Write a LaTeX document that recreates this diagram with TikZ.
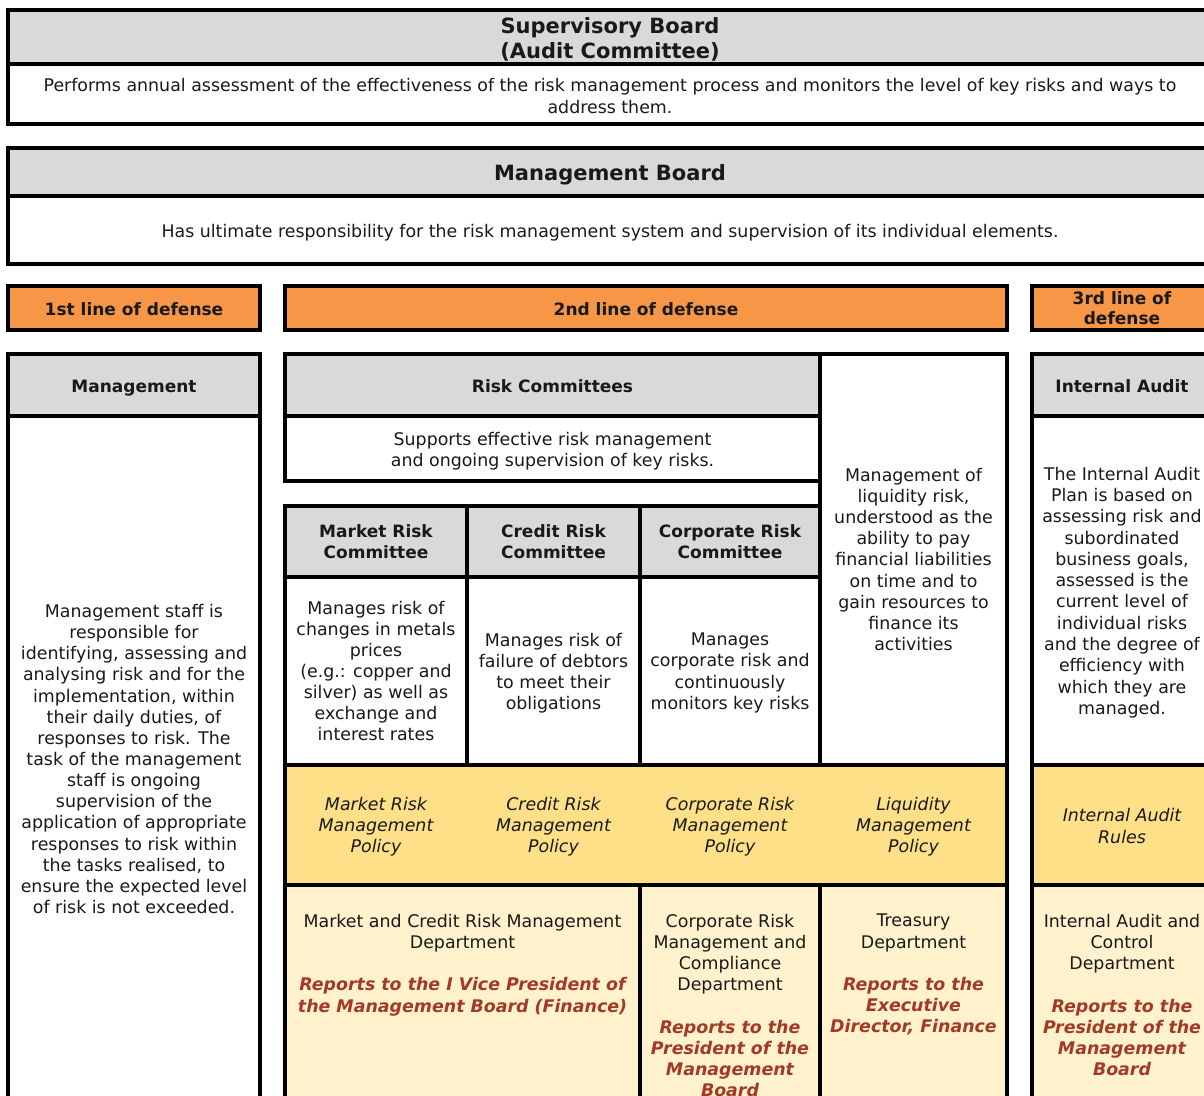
\documentclass[tikz,border=0pt]{standalone}
\usepackage{fontspec}
\setmainfont{DejaVu Sans}
\newcommand\bodyfnt{\fontsize{17.4}{21.15}\selectfont}
\newcommand\boldfnt{\fontsize{17}{21.15}\selectfont\bfseries}
\newcommand\bigfnt{\fontsize{21}{25}\selectfont\bfseries}
\newcommand\rp[1]{{\color{rep}\bfseries\itshape #1}}
\definecolor{hdr}{RGB}{217,217,217}
\definecolor{orng}{RGB}{247,150,70}
\definecolor{pol}{RGB}{254,224,137}
\definecolor{dept}{RGB}{255,242,204}
\definecolor{rep}{RGB}{163,58,40}
\begin{document}
\begin{tikzpicture}[x=1pt,y=-1pt,
  cell/.style={draw=black, line width=3.3pt, inner sep=0pt, outer sep=0pt,
    anchor=north west},
  hcell/.style={cell, fill=hdr},
  ocell/.style={cell, fill=orng},
  pcell/.style={cell, fill=pol},
  dcell/.style={cell, fill=dept},
  ct/.style={align=center, inner sep=0pt, font=\bodyfnt, text=black!90},
  ht/.style={ct, font=\boldfnt},
  bt/.style={ct, font=\bigfnt},
  pt/.style={ct, font=\bodyfnt\itshape},
  dt/.style={ct, anchor=north}]
\useasboundingbox (0,0) rectangle (1204,1095);
\clip (0,0) rectangle (1204,1095);
% top boards
\node[hcell, minimum width=1204pt, minimum height=54pt] (sbh) at (8,10) {};
\node[bt] (sbht) at ([yshift=-2pt]sbh.center) {Supervisory Board\\(Audit Committee)};
\node[cell, minimum width=1204pt, minimum height=60pt] (sbb) at (8,64) {};
\node[ct] (sbbt) at ([yshift=-2pt]sbb.center)
  {Performs annual assessment of the effectiveness of the risk management process and monitors the level of key risks and ways to\\address them.};
\node[hcell, minimum width=1204pt, minimum height=48pt] (mbh) at (8,148) {};
\node[bt] (mbht) at ([yshift=-3pt]mbh.center) {Management Board};
\node[cell, minimum width=1204pt, minimum height=68pt] (mbb) at (8,196) {};
\node[ct] (mbbt) at ([yshift=-3pt]mbb.center)
  {Has ultimate responsibility for the risk management system and supervision of its individual elements.};
% lines of defense
\node[ocell, minimum width=252pt, minimum height=44pt] (l1) at (8,286) {};
\node[ht] (l1t) at ([yshift=-1pt]l1.center) {1st line of defense};
\node[ocell, minimum width=722pt, minimum height=44pt] (l2) at (285,286) {};
\node[ht] (l2t) at ([yshift=-1pt]l2.center) {2nd line of defense};
\node[ocell, minimum width=180pt, minimum height=44pt] (l3) at (1032,286) {};
\node[ht, font=\fontsize{17}{20}\selectfont\bfseries] (l3t) at (l3.center) {3rd line of\\defense};
% management column
\node[hcell, minimum width=252pt, minimum height=62pt] (mgh) at (8,354) {};
\node[ht] (mght) at ([yshift=-3pt]mgh.center) {Management};
\node[cell, minimum width=252pt, minimum height=688pt] (mgb) at (8,416) {};
\node[ct] (mgbt) at ([yshift=1pt]mgb.center)
  {Management staff is\\responsible for\\identifying, assessing and\\analysing risk and for the\\implementation, within\\their daily duties, of\\responses to risk. The\\task of the management\\staff is ongoing\\supervision of the\\application of appropriate\\responses to risk within\\the tasks realised, to\\ensure the expected level\\of risk is not exceeded.};
% risk committees
\node[hcell, minimum width=535pt, minimum height=62pt] (rch) at (285,354) {};
\node[ht] (rcht) at ([yshift=-1pt]rch.center) {Risk Committees};
\node[cell, minimum width=535pt, minimum height=65pt] (rcb) at (285,416) {};
\node[ct] (rcbt) at ([yshift=-3pt]rcb.center)
  {Supports effective risk management\\and ongoing supervision of key risks.};
\node[cell, minimum width=187pt, minimum height=411pt] (liq) at (820,354) {};
\node[ct] (liqt) at (liq.center)
  {Management of\\liquidity risk,\\understood as the\\ability to pay\\financial liabilities\\on time and to\\gain resources to\\finance its\\activities};
\node[hcell, minimum width=182pt, minimum height=71pt] (mrh) at (285,506) {};
\node[ht] (mrht) at (mrh.center) {Market Risk\\Committee};
\node[hcell, minimum width=173pt, minimum height=71pt] (crh) at (467,506) {};
\node[ht] (crht) at (crh.center) {Credit Risk\\Committee};
\node[hcell, minimum width=180pt, minimum height=71pt] (coh) at (640,506) {};
\node[ht] (coht) at (coh.center) {Corporate Risk\\Committee};
\node[cell, minimum width=182pt, minimum height=188pt] (mrb) at (285,577) {};
\node[ct] (mrbt) at (mrb.center)
  {Manages risk of\\changes in metals\\prices\\(e.g.: copper and\\silver) as well as\\exchange and\\interest rates};
\node[cell, minimum width=173pt, minimum height=188pt] (crb) at (467,577) {};
\node[ct] (crbt) at ([yshift=-2pt]crb.center)
  {Manages risk of\\failure of debtors\\to meet their\\obligations};
\node[cell, minimum width=180pt, minimum height=188pt] (cob) at (640,577) {};
\node[ct] (cobt) at ([yshift=-2pt]cob.center)
  {Manages\\corporate risk and\\continuously\\monitors key risks};
% policies
\node[pcell, minimum width=722pt, minimum height=120pt] (pol) at (285,765) {};
\node[pt] (mrp) at (376,827) {Market Risk\\Management\\Policy};
\node[pt] (crp) at (553.5,827) {Credit Risk\\Management\\Policy};
\node[pt] (cop) at (730,827) {Corporate Risk\\Management\\Policy};
\node[pt] (lqp) at (913.5,827) {Liquidity\\Management\\Policy};
% internal audit
\node[hcell, minimum width=180pt, minimum height=62pt] (iah) at (1032,354) {};
\node[ht] (iaht) at ([yshift=-1pt]iah.center) {Internal Audit};
\node[cell, minimum width=180pt, minimum height=349pt] (iab) at (1032,416) {};
\node[ct, font=\fontsize{17.4}{21.3}\selectfont] (iabt) at ([yshift=-2pt]iab.center)
  {The Internal Audit\\Plan is based on\\assessing risk and\\subordinated\\business goals,\\assessed is the\\current level of\\individual risks\\and the degree of\\efficiency with\\which they are\\managed.};
\node[pcell, minimum width=180pt, minimum height=120pt] (iap) at (1032,765) {};
\node[pt] (iapt) at ([yshift=-1pt]iap.center) {Internal Audit\\Rules};
% departments
\node[dcell, minimum width=355pt, minimum height=219pt] (mcd) at (285,885) {};
\node[dcell, minimum width=180pt, minimum height=219pt] (cod) at (640,885) {};
\node[dcell, minimum width=187pt, minimum height=219pt] (trd) at (820,885) {};
\node[dcell, minimum width=180pt, minimum height=219pt] (iad) at (1032,885) {};
\node[dt] (mcdt) at ([yshift=-29pt]mcd.north)
  {Market and Credit Risk Management\\Department\\[21.15pt]
   \rp{Reports to the I Vice President of}\\
   \rp{the Management Board (Finance)}};
\node[dt] (codt) at ([yshift=-29pt]cod.north)
  {Corporate Risk\\Management and\\Compliance\\Department\\[21.15pt]
   \rp{Reports to the}\\ \rp{President of the}\\ \rp{Management}\\ \rp{Board}};
\node[dt] (trdt) at ([yshift=-29pt]trd.north)
  {Treasury\\Department\\[21.15pt]
   \rp{Reports to the}\\ \rp{Executive}\\ \rp{Director, Finance}};
\node[dt] (iadt) at ([yshift=-29pt]iad.north)
  {Internal Audit and\\Control\\Department\\[21.15pt]
   \rp{Reports to the}\\ \rp{President of the}\\ \rp{Management}\\ \rp{Board}};
\end{tikzpicture}
\end{document}
